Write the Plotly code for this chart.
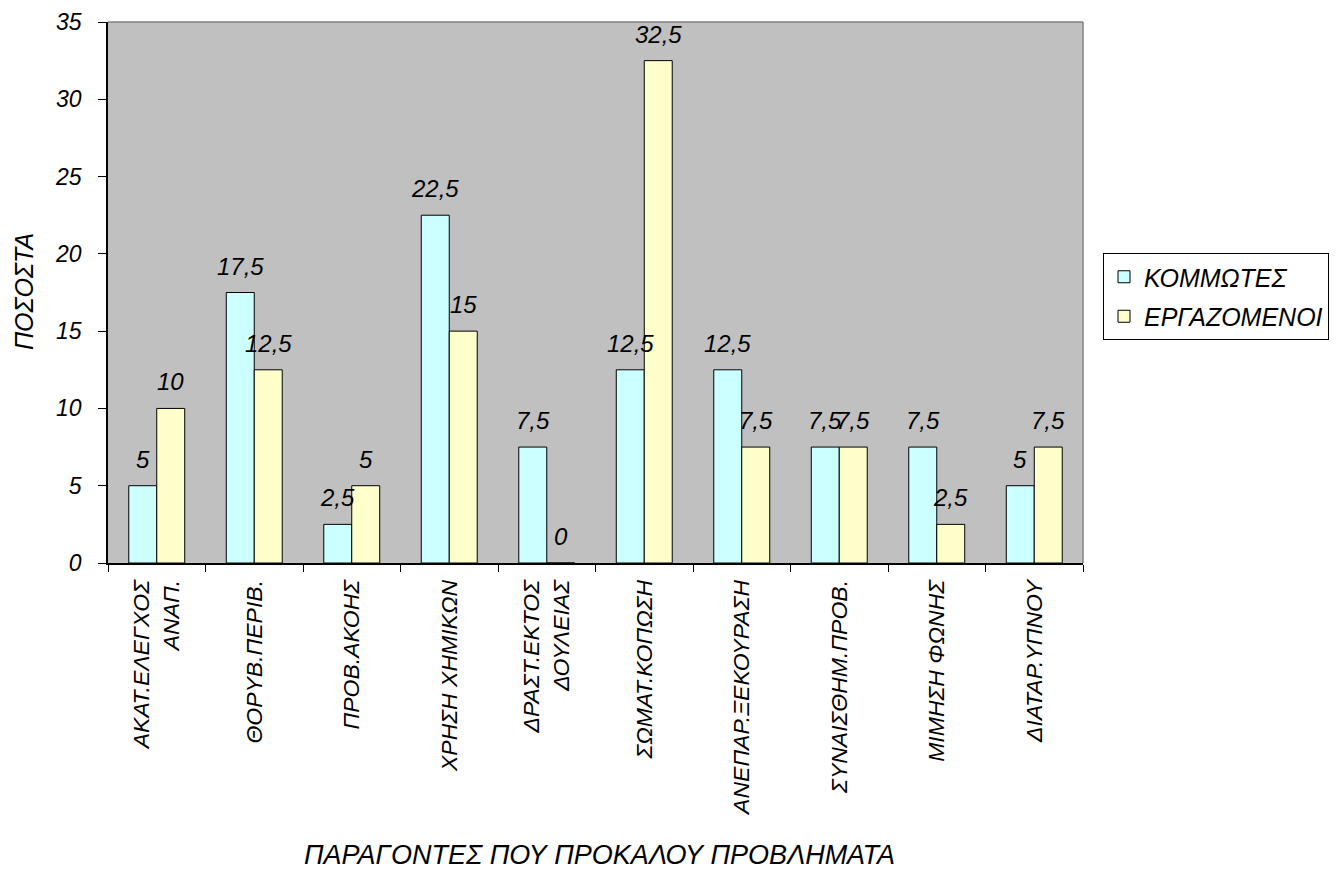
import plotly.graph_objects as go

# Survey data: factors causing problems, percentages per group
categories = [
    "ΑΚΑΤ.ΕΛΕΓΧΟΣ<br>ΑΝΑΠ.",
    "ΘΟΡΥΒ.ΠΕΡΙΒ.",
    "ΠΡΟΒ.ΑΚΟΗΣ",
    "ΧΡΗΣΗ ΧΗΜΙΚΩΝ",
    "ΔΡΑΣΤ.ΕΚΤΟΣ<br>ΔΟΥΛΕΙΑΣ",
    "ΣΩΜΑΤ.ΚΟΠΩΣΗ",
    "ΑΝΕΠΑΡ.ΞΕΚΟΥΡΑΣΗ",
    "ΣΥΝΑΙΣΘΗΜ.ΠΡΟΒ.",
    "ΜΙΜΗΣΗ ΦΩΝΗΣ",
    "ΔΙΑΤΑΡ.ΥΠΝΟΥ",
]
kommotes = [5, 17.5, 2.5, 22.5, 7.5, 12.5, 12.5, 7.5, 7.5, 5]
ergazomenoi = [10, 12.5, 5, 15, 0, 32.5, 7.5, 7.5, 2.5, 7.5]

series_names = ["ΚΟΜΜΩΤΕΣ", "ΕΡΓΑΖΟΜΕΝΟΙ"]
series_colors = ["#CCFFFF", "#FFFFCC"]

y_ticks = [0, 5, 10, 15, 20, 25, 30, 35]

FONT = "Liberation Sans, Arial, sans-serif"

W, H = 1338, 872
M_L, M_R, M_T, M_B = 108, 255, 22, 309
PLOT_W = W - M_L - M_R
PLOT_H = H - M_T - M_B


def fmt(v):
    s = f"{v:g}"
    return s.replace(".", ",")


fig = go.Figure()
for name, vals, col in zip(series_names, [kommotes, ergazomenoi], series_colors):
    fig.add_trace(go.Bar(
        x=categories, y=vals, name=name, legendgroup=name,
        marker=dict(color=col, line=dict(color="black", width=1)),
    ))

# value labels above each bar
shift = 14
for vals, dx in [(kommotes, -shift), (ergazomenoi, shift)]:
    for c, v in zip(categories, vals):
        fig.add_annotation(
            x=c, y=v, xref="x", yref="y", text=fmt(v), showarrow=False,
            xshift=dx, yshift=11, yanchor="bottom", xanchor="center",
            font=dict(family=FONT, size=24, color="black", style="italic"),
        )

# axis titles
fig.add_annotation(
    x=(599 - M_L) / PLOT_W, y=(M_T + PLOT_H - 855) / PLOT_H,
    xref="paper", yref="paper", showarrow=False,
    text="ΠΑΡΑΓΟΝΤΕΣ ΠΟΥ ΠΡΟΚΑΛΟΥ ΠΡΟΒΛΗΜΑΤΑ",
    xanchor="center", yanchor="middle",
    font=dict(family=FONT, size=27, color="black", style="italic"),
)
fig.add_annotation(
    x=(24 - M_L) / PLOT_W, y=(M_T + PLOT_H - 292) / PLOT_H,
    xref="paper", yref="paper", showarrow=False, textangle=-90,
    text="ΠΟΣΟΣΤΑ", xanchor="center", yanchor="middle",
    font=dict(family=FONT, size=25, color="black", style="italic"),
)

# gray frame on the top and right of the plot area
fig.add_shape(type="line", xref="paper", yref="paper", x0=0, x1=1, y0=1, y1=1,
              line=dict(color="#808080", width=1.5))
fig.add_shape(type="line", xref="paper", yref="paper", x0=1, x1=1, y0=0, y1=1,
              line=dict(color="#808080", width=1.5))

fig.update_layout(
    width=W, height=H,
    margin=dict(l=M_L, r=M_R, t=M_T, b=M_B, autoexpand=False),
    paper_bgcolor="white",
    plot_bgcolor="#C0C0C0",
    barmode="group",
    bargap=0.426,
    bargroupgap=0,
    font=dict(family=FONT, color="black"),
    legend=dict(
        x=(1103 - M_L) / PLOT_W, y=(M_T + PLOT_H - 253) / PLOT_H,
        xanchor="left", yanchor="top",
        bgcolor="white", bordercolor="black", borderwidth=1,
        font=dict(family=FONT, size=25, color="black", style="italic"),
        tracegroupgap=4,
    ),
    xaxis=dict(
        type="category",
        showline=True, linecolor="black", linewidth=1.5,
        ticks="outside", tickson="boundaries", ticklen=7, tickcolor="black",
        tickangle=-90, ticklabelstandoff=6,
        tickfont=dict(family=FONT, size=23, color="black", style="italic"),
        showgrid=False, zeroline=False,
    ),
    yaxis=dict(
        range=[0, 35], tickvals=y_ticks,
        showline=True, linecolor="black", linewidth=1.5,
        ticks="outside", ticklen=8, tickcolor="black",
        ticklabelstandoff=12,
        tickfont=dict(family=FONT, size=23, color="black", style="italic"),
        showgrid=False, zeroline=False,
    ),
)

fig.write_html("out.html")
